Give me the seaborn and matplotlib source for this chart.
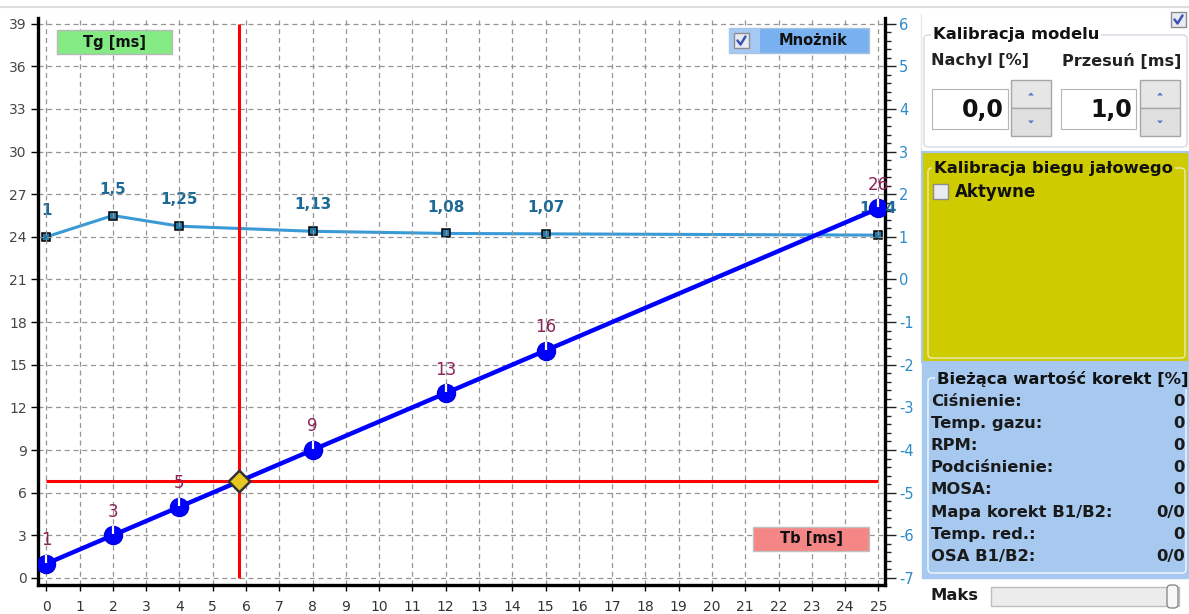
import numpy as np
import pandas as pd
import matplotlib
matplotlib.use("Agg")
import matplotlib.pyplot as plt
import seaborn as sns
from matplotlib.patches import Rectangle, FancyBboxPatch, Polygon
from matplotlib.ticker import MultipleLocator
from matplotlib.path import Path
from matplotlib.lines import Line2D

# ---------------- data ----------------
tb_points = [0, 2, 4, 8, 12, 15, 25]
tg_values = [1, 3, 5, 9, 13, 16, 26]
tg_labels = ["1", "3", "5", "9", "13", "16", "26"]
mult_values = [1.0, 1.5, 1.25, 1.13, 1.08, 1.07, 1.04]
mult_labels = ["1", "1,5", "1,25", "1,13", "1,08", "1,07", "1,04"]
cursor_tb = 5.8
cursor_tg = 6.8
x_ticks = list(range(0, 26))
left_ticks = list(range(0, 40, 3))
right_ticks = list(range(-7, 7))
model_slope = "0,0"
model_shift = "1,0"
corr_names = ["Ciśnienie:", "Temp. gazu:", "RPM:", "Podciśnienie:", "MOSA:",
              "Mapa korekt B1/B2:", "Temp. red.:", "OSA B1/B2:"]
corr_values = ["0", "0", "0", "0", "0", "0/0", "0", "0/0"]

# ---------------- style ----------------
sns.set_theme(style="white")
plt.rcParams['font.family'] = ['DejaVu Sans']
plt.rcParams['axes.unicode_minus'] = False

W, H = 1189, 614
fig = plt.figure(figsize=(W / 100, H / 100), dpi=100)
fig.patch.set_facecolor('white')

L, R, T, B = 38, 885, 18, 585
ax = fig.add_axes([L / W, 1 - B / H, (R - L) / W, (B - T) / H])
ax2 = ax.twinx()
ax2.set_zorder(1)
ax.set_zorder(2)
ax.patch.set_visible(False)

ax.set_xlim(-0.25, 25.2)
ax.set_ylim(-0.5, 39.4)
ax2.set_ylim(-0.5 / 3 - 7, 39.4 / 3 - 7)

grid_kw = dict(color='#959595', linestyle=(0, (4, 3)), linewidth=0.9)
ax.set_axisbelow(True)
ax.xaxis.grid(True, **grid_kw)
ax.yaxis.grid(True, **grid_kw)

ax.set_xticks(x_ticks)
ax.set_xticklabels([str(v) for v in x_ticks])
ax.set_yticks(left_ticks)
ax.set_yticklabels([str(v) for v in left_ticks])
ax2.set_yticks(right_ticks)
ax2.set_yticklabels([str(v) for v in right_ticks])
ax2.yaxis.set_minor_locator(MultipleLocator(0.2))

ax.tick_params(axis='y', which='major', direction='out', length=5, width=1,
               color='black', labelcolor='#454545', labelsize=10, pad=3, left=True)
ax.tick_params(axis='x', which='major', direction='out', length=4, width=1,
               color='black', labelcolor='#333333', labelsize=10, pad=7, bottom=True)
ax2.tick_params(axis='y', which='major', direction='out', length=8, width=1,
                color='#222222', labelcolor='#2e8bc8', labelsize=10.5, pad=2, right=True)
ax2.tick_params(axis='y', which='minor', direction='out', length=4, width=1,
                color='#222222', right=True)

for s in ['top', 'right']:
    ax.spines[s].set_visible(False)
for s in ['left', 'bottom']:
    ax.spines[s].set_visible(True)
    ax.spines[s].set_color('black')
    ax.spines[s].set_linewidth(2.4)
for s in ['top', 'left', 'bottom']:
    ax2.spines[s].set_visible(False)
ax2.spines['right'].set_visible(True)
ax2.spines['right'].set_color('black')
ax2.spines['right'].set_linewidth(2.4)

# ---------------- multiplier series (right axis) ----------------
sns.lineplot(x=tb_points, y=mult_values, ax=ax2, color='#3a9ad6', linewidth=2.2,
             marker='s', markersize=6, markerfacecolor='#1f78aa',
             markeredgecolor='black', markeredgewidth=1.1, legend=False)
for xv, yv, lab in zip(tb_points, mult_values, mult_labels):
    ax2.annotate(lab, (xv, yv), xytext=(0, 19), textcoords='offset points',
                 ha='center', va='center', fontsize=11, fontweight='bold',
                 color='#1d6a96')

# ---------------- crosshair ----------------
ax.vlines(cursor_tb, left_ticks[0], left_ticks[-1], color='#ff0000', linewidth=2.2, zorder=3)
ax.hlines(cursor_tg, x_ticks[0], x_ticks[-1], color='#ff0000', linewidth=2.2, zorder=3)

# ---------------- Tb/Tg series (left axis) ----------------
sns.lineplot(x=tb_points, y=tg_values, ax=ax, color='#0000ff', linewidth=3.2,
             marker='o', markersize=13, markerfacecolor='#0000ff',
             markeredgecolor='#0000e0', markeredgewidth=1, legend=False, zorder=4)
tick_marker = Path([(0, 0.1), (0, 1.0)])
ax.plot(tb_points, tg_values, linestyle='none', marker=tick_marker, markersize=13,
        markeredgecolor='white', markeredgewidth=1.6, zorder=5)
for xv, yv, lab in zip(tb_points, tg_values, tg_labels):
    ax.annotate(lab, (xv, yv), xytext=(0, 17), textcoords='offset points',
                ha='center', va='center', fontsize=12, color='#8c2456', zorder=6)

sns.scatterplot(x=[cursor_tb], y=[cursor_tg], ax=ax, marker='D', s=120,
                color='#e8c820', edgecolor='#333333', linewidth=1.8, zorder=7,
                legend=False)

# ---------------- overlay (UI widgets) ----------------
ov = fig.add_axes([0, 0, 1, 1], zorder=10)
ov.set_xlim(0, W)
ov.set_ylim(H, 0)
ov.axis('off')


def rect(x0, y0, x1, y1, fc, ec='none', lw=1.0, z=1, rounded=False):
    if rounded:
        p = FancyBboxPatch((x0, y0), x1 - x0, y1 - y0,
                           boxstyle="round,pad=0,rounding_size=4",
                           fc=fc, ec=ec, lw=lw, zorder=z)
    else:
        p = Rectangle((x0, y0), x1 - x0, y1 - y0, fc=fc, ec=ec, lw=lw, zorder=z)
    ov.add_patch(p)
    return p


def txt(x, y, s, size=11.5, weight='bold', color='#111111', ha='left', va='center',
        bg=None, z=5):
    kw = {}
    if bg is not None:
        kw['bbox'] = dict(boxstyle='square,pad=0.1', fc=bg, ec='none')
    ov.text(x, y, s, fontsize=size, fontweight=weight, color=color, ha=ha, va=va,
            zorder=z, **kw)


def checkbox(x, y, checked):
    rect(x, y, x + 15, y + 15, '#e9ebf2', ec='#8d8d8d', lw=1.0, z=3)
    if checked:
        ov.add_line(Line2D([x + 3.5, x + 6.5, x + 11.5], [y + 7.5, y + 11.5, y + 3.5],
                           color='#3b55b5', lw=1.8, zorder=4))


# top gray separator line
ov.add_line(Line2D([0, W], [7, 7], color='#dcdcdc', lw=1.5, zorder=1))
ov.add_line(Line2D([921, 921], [14, 150], color='#e6e6e6', lw=1.0, zorder=1))

# chart labels
rect(57, 30, 172, 54, '#84ea84', ec='#b8b8b8', lw=1.0, z=2)
txt(114.5, 42, "Tg [ms]", size=10.5, ha='center')
rect(729, 28, 869, 53, '#78b0f0', ec='#a9c2e0', lw=1.0, z=2)
rect(729, 28, 760, 53, '#a6c9f3', ec='none', z=2)
checkbox(734, 33, True)
txt(813, 40.5, "Mnożnik", size=10.5, ha='center')
rect(753, 527, 869, 551, '#f58686', ec='#c0c0c0', lw=1.0, z=2)
txt(811, 539, "Tb [ms]", size=10.5, ha='center')

# top-right checkbox
checkbox(1171, 12, True)

# Kalibracja modelu
rect(924, 35, 1187, 147, 'white', ec='#d4dbe3', lw=1.0, z=1, rounded=True)
txt(933, 35, "Kalibracja modelu", size=11.8, bg='white')
txt(931, 61, "Nachyl [%]", size=11.6, color='#222222')
txt(1062, 61, "Przesuń [ms]", size=11.6, color='#222222')


def spin_field(x0, x1, sx0, value):
    rect(x0, 89, x1, 129, 'white', ec='#b5b5b5', lw=0.8, z=2)
    txt(x1 - 4, 110, value, size=17, ha='right')
    rect(sx0, 80, sx0 + 40, 108, '#e6e6e6', ec='#a6a6a6', lw=1.0, z=2)
    rect(sx0, 108, sx0 + 40, 136, '#e0e0e0', ec='#a6a6a6', lw=1.0, z=2)
    cx = sx0 + 20
    ov.add_patch(Polygon([[cx - 3, 95.5], [cx + 3, 95.5], [cx, 92.5]], closed=True,
                         fc='#5a74c4', ec='none', zorder=3))
    ov.add_patch(Polygon([[cx - 3, 120.5], [cx + 3, 120.5], [cx, 123.5]], closed=True,
                         fc='#5a74c4', ec='none', zorder=3))


spin_field(932, 1008, 1011, model_slope)
spin_field(1061, 1136, 1140, model_shift)

# Kalibracja biegu jałowego (yellow)
rect(922, 152, 1189, 362, '#cecb00', ec='#a9c8ea', lw=1.6, z=1)
rect(928, 168, 1185, 358, 'none', ec='#ecebb8', lw=1.0, z=2, rounded=True)
txt(934, 168, "Kalibracja biegu jałowego", size=11.8, bg='#cecb00')
checkbox(933, 184, False)
txt(955, 192, "Aktywne", size=12)

# Bieżąca wartość korekt (blue)
rect(922, 363, 1189, 578, '#a7c9ef', ec='#a7c9ef', lw=1.0, z=1)
rect(928, 378, 1186, 573, 'none', ec='#f4f8fd', lw=1.0, z=2, rounded=True)
txt(937, 379, "Bieżąca wartość korekt [%]", size=11.8, bg='#a7c9ef')
for i, (nm, vl) in enumerate(zip(corr_names, corr_values)):
    yy = 401 + i * 22.2
    txt(931, yy, nm, size=11.8, color='#1a1a1a')
    txt(1185, yy, vl, size=11.8, color='#1a1a1a', ha='right')

# slider
txt(930, 596, "Maks", size=11.8, color='#1a1a1a')
rect(991, 587, 1179, 606, '#ececec', ec='#bdbdbd', lw=1.0, z=2)
rect(1167, 585, 1178, 608, '#f7f7f7', ec='#8a8a8a', lw=1.0, z=3, rounded=True)

fig.savefig("out.png", dpi=100, facecolor='white')
